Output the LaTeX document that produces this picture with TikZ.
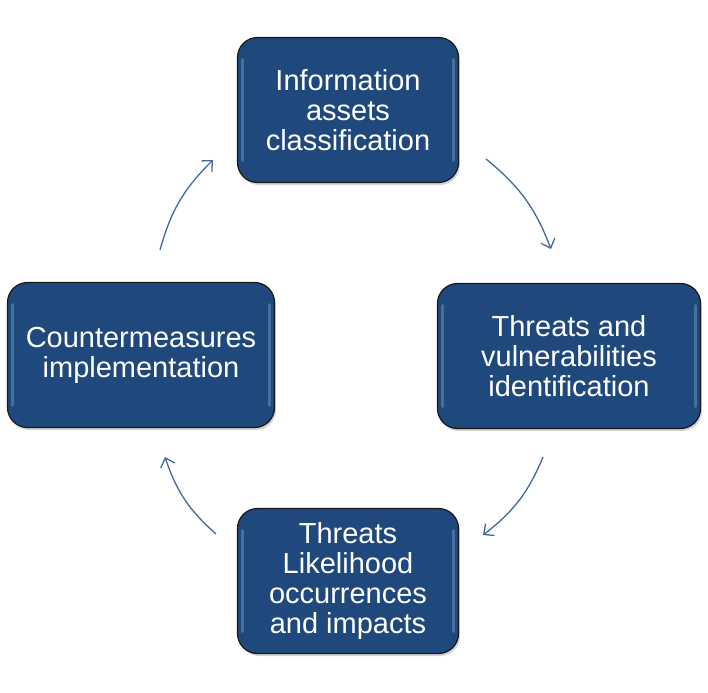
\documentclass[tikz,border=0pt]{standalone}
\usepackage{fontspec}
\setmainfont{Liberation Sans}
\usetikzlibrary{arrows.meta,shadows}

\definecolor{boxblue}{RGB}{31,73,125}
\definecolor{boxedge}{RGB}{25,25,25}
\definecolor{arrowblue}{RGB}{68,104,158}
\definecolor{glossblue}{RGB}{150,180,225}

\begin{document}
\begin{tikzpicture}[x=1pt, y=-1pt,
  stage/.style={draw=boxedge, line width=1.2pt, fill=boxblue, rounded corners=20pt,
    text=white, align=center, font=\fontsize{29}{30}\selectfont,
    minimum height=145pt, inner sep=0pt,
    drop shadow={shadow xshift=1.5pt, shadow yshift=-2.5pt, opacity=0.35},
    path picture={
      \draw[glossblue, line width=3pt, opacity=0.35, line cap=round]
        ([xshift=5pt,yshift=-22pt]path picture bounding box.north west) --
        ([xshift=5pt,yshift=22pt]path picture bounding box.south west);
      \draw[glossblue, line width=3pt, opacity=0.35, line cap=round]
        ([xshift=-5pt,yshift=-22pt]path picture bounding box.north east) --
        ([xshift=-5pt,yshift=22pt]path picture bounding box.south east);
    }},
  cycle/.style={draw=arrowblue, line width=1.3pt,
    -{Straight Barb[length=8pt,width=15pt]}}]

\useasboundingbox (0,0) rectangle (708,692);

% Stages
\node[stage, minimum width=221pt] (assets) at (348,110) {Information\\assets\\classification};
\node[stage, minimum width=263pt] (threats) at (569,356) {Threats and\\vulnerabilities\\identification};
\node[stage, minimum width=221pt] (impacts) at (348,581) {Threats\\Likelihood\\occurrences\\and impacts};
\node[stage, minimum width=267pt] (counter) at (141,355) {Countermeasures\\implementation};

% Arrow ends
\coordinate (assetsout) at (486,159);
\coordinate (threatsin) at (551,249);
\coordinate (threatsout) at (543,457);
\coordinate (impactsin) at (483,535);
\coordinate (impactsout) at (216,534);
\coordinate (counterin) at (165,457);
\coordinate (counterout) at (160,250);
\coordinate (assetsin) at (213,160);

% Cycle arrows
\draw[cycle] (assetsout) to[bend left=15] (threatsin);
\draw[cycle] (threatsout) to[bend left=15] (impactsin);
\draw[cycle] (impactsout) to[bend left=15] (counterin);
\draw[cycle] (counterout) to[bend left=15] (assetsin);

\end{tikzpicture}
\end{document}
